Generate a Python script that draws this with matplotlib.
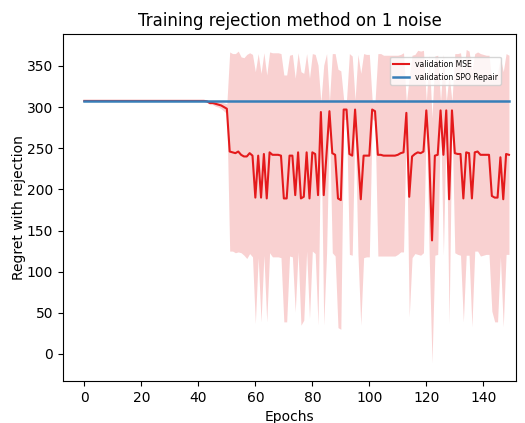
import numpy as np
import matplotlib
matplotlib.use('Agg')
import matplotlib.pyplot as plt

# epochs 0..149
epochs = np.arange(150)

# validation SPO Repair (flat)
spo_repair = [307.5] * 150

# validation MSE mean
mse_head = [307.5] * 43
mse_tail = [307, 305, 305, 304, 303, 302, 300, 298,          # 43-50
            246, 245, 244, 246, 242, 240, 240, 244, 241,     # 51-59
            190, 241, 190, 243, 189, 245, 242, 242, 242, 241,  # 60-69
            189, 189, 241, 241, 193, 245, 189, 191, 245, 189,  # 70-79
            245, 243, 193, 294, 193, 244, 295, 244, 242, 189,  # 80-89
            187, 297, 297, 243, 241, 297, 243, 188, 241, 241,  # 90-99
            241, 297, 295, 242, 242, 241, 241, 241, 241, 241,  # 100-109
            242, 244, 245, 293, 191, 240, 243, 245, 244, 246,  # 110-119
            296, 242, 138, 241, 242, 296, 242, 296, 188, 296,  # 120-129
            244, 243, 243, 189, 245, 244, 189, 245, 246, 242,  # 130-139
            242, 242, 242, 192, 190, 190, 239, 188, 243, 242]  # 140-149
mse_mean = mse_head + mse_tail

# standard deviation (half width of the shaded band)
std_head = [0] * 43
std_tail = [1, 2, 2, 3, 3, 4, 5, 6,
            121, 120, 121, 122, 119, 120, 124, 122, 123,
            153, 124, 151, 123, 150, 122, 124, 124, 124, 124,
            150, 150, 122, 123, 142, 121, 154, 150, 120, 146,
            120, 121, 158, 12, 158, 121, 12, 121, 123, 157,
            157, 12, 12, 122, 121, 12, 121, 153, 124, 123,
            123, 11, 12, 123, 123, 122, 122, 122, 122, 122,
            121, 120, 121, 12, 146, 123, 121, 124, 124, 123,
            11, 121, 149, 121, 121, 11, 122, 11, 151, 11,
            121, 122, 123, 150, 125, 124, 156, 120, 121, 123,
            122, 121, 121, 140, 151, 151, 121, 155, 122, 121]
mse_std = std_head + std_tail

mean = np.array(mse_mean)
std = np.array(mse_std)

fig, ax = plt.subplots(figsize=(5.25, 4.23), dpi=100)
fig.subplots_adjust(left=0.12, right=0.983, top=0.92, bottom=0.099)

ax.plot(epochs, mean, color='#e41a1c', lw=1.5, label='validation MSE')
ax.fill_between(epochs, mean - std, mean + std, color='#e41a1c', alpha=0.2, lw=0)
ax.plot(epochs, spo_repair, color='#377eb8', lw=1.8, label='validation SPO Repair')

ax.set_xlim(-7.5, 151.5)
ax.set_ylim(-33, 389)
ax.set_title('Training rejection method on 1 noise')
ax.set_xlabel('Epochs')
ax.set_ylabel('Regret with rejection', labelpad=0.5)
ax.legend(loc='upper right', fontsize=5.5, bbox_to_anchor=(0.975, 0.945))

plt.savefig('out.png')
